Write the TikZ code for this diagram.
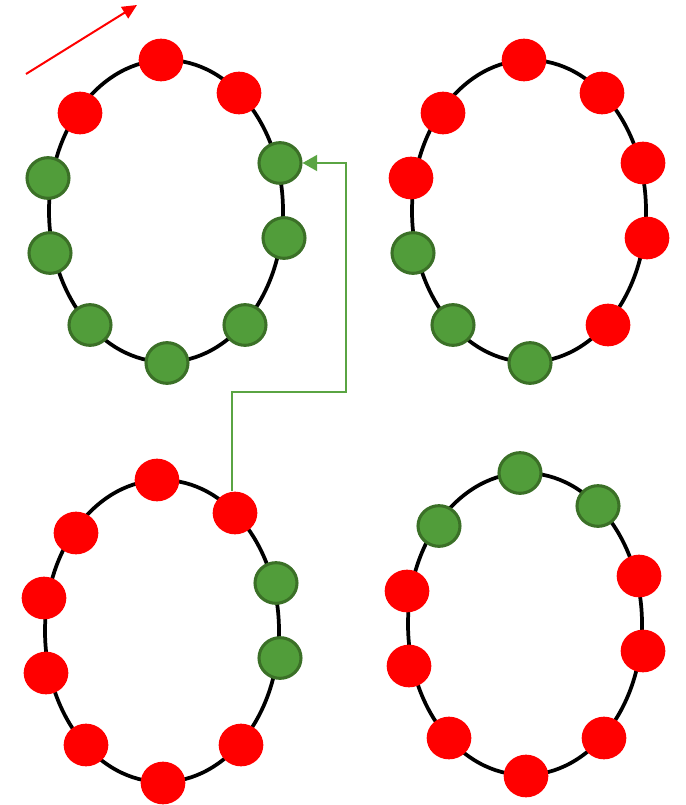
\documentclass[tikz,border=0pt]{standalone}
\usepackage{tikz}
\usepackage{xcolor}
\usetikzlibrary{arrows.meta, shapes.geometric}
\definecolor{dotred}{HTML}{FF0000}
\definecolor{dotgreen}{HTML}{519D3A}
\definecolor{dotedge}{HTML}{3B7027}
\definecolor{linkgreen}{HTML}{5AA443}
\tikzset{
  ringline/.style={draw=black, line width=2.8pt},
  dotr/.style={ellipse, fill=dotred, draw=none, inner sep=0pt,
               minimum width=33.5pt, minimum height=32pt},
  dotg/.style={ellipse, fill=dotgreen, draw=dotedge, line width=2.3pt, inner sep=0pt,
               minimum width=31.5pt, minimum height=30.5pt},
  dirarrow/.style={-{Triangle[length=11pt, width=10pt]}, line width=1.5pt, draw=dotred},
  link/.style={-{Triangle[length=11pt, width=12pt]}, line width=1.5pt, draw=linkgreen},
}

\begin{document}
\begin{tikzpicture}[x=0.75pt, y=-0.75pt]
  \useasboundingbox (0,0) rectangle (685,805);
  % four rings of ten beads each
  \foreach \r/\cx/\cy/\cols in {
      a/166/211/{"r","r","g","g","g","g","g","g","g","r"},
      b/529/211/{"r","r","r","r","r","g","g","g","r","r"},
      c/162/631/{"r","r","g","g","r","r","r","r","r","r"},
      d/525/624/{"g","g","r","r","r","r","r","r","r","g"}}{
    \draw[ringline] (\cx,\cy) ellipse [x radius=117, y radius=151];
    \foreach \dx/\dy [count=\i] in {-5/-151, 73/-118, 114/-48, 118/27, 79/114,
                                    1/152, -76/114, -116/42, -118/-33, -86/-98}{
      \pgfmathsetmacro\k{{\cols}[\i-1]}
      \node[dot\k] (\r\i) at ({\cx+(\dx)},{\cy+(\dy)}) {};
    }
  }
  % direction
  \coordinate (dir0) at (26,74);
  \coordinate (dir1) at (137,5);
  \draw[dirarrow] (dir0) -- (dir1);
  % copy link
  \coordinate (bend) at (346,392);
  \draw[link] ([xshift=-2pt]c2.north) |- (bend) |- (a3.east);
\end{tikzpicture}
\end{document}
